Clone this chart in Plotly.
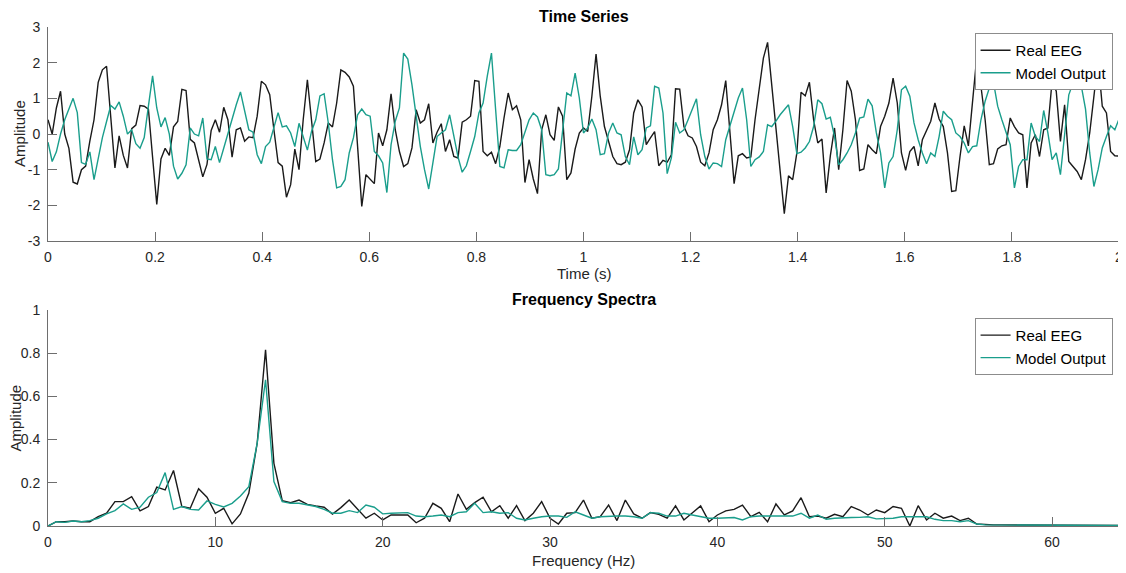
import numpy as np
import plotly.graph_objects as go

# ---------------- data ----------------
fs = 128
eeg_time = [
    0.4, 0.0, 0.73, 1.2, 0.0, -0.4, -1.35, -1.4, -1.0, -0.9,
    -0.2, 0.4, 1.45, 1.8, 1.9, 0.55, -0.95, -0.05, -0.6, -0.95,
    0.15, 0.25, 0.8, 0.78, 0.7, -0.65, -1.97, -0.7, -0.4, -0.6,
    0.2, 0.35, 1.25, 1.22, -0.15, -0.25, -0.7, -1.2, -0.85, 0.1,
    0.4, 0.05, 0.75, 0.4, -0.65, 0.12, 0.17, -0.2, -0.08, -0.1,
    0.5, 1.48, 1.38, 1.1, 0.12, -0.8, -0.9, -1.77, -1.42, -0.42,
    -1.0, 0.4, 1.52, 0.4,
    -0.77, -0.70, -0.25, 0.31, 0.2, 0.87, 1.8, 1.73, 1.6, 1.34,
    -0.49, -2.03, -1.14, -1.26, -1.39, 0.03, -0.33, 0.12, 1.13, 0.12,
    -0.49, -0.91, -0.83, -0.39, 0.68, 0.31, 0.4, 0.85, -0.25, 0.05,
    0.29, -0.49, -0.16, -0.63, -0.67, 0.33, 0.4, 0.5, 1.5, 1.48,
    -0.49, -0.61, -0.51, -0.83, -0.35, 0.45, 1.15, 0.68, 0.79, 0.4,
    -1.36, -0.72, -1.26, -1.67, 0.12, 0.54, -0.02, -0.18, 0.76, 0.5,
    -1.28, -1.09, -0.42, 0.03,
    0.17, 0.07, 1.06, 2.24, 1.06, 0.21, -0.25, -0.63, -0.83, -0.86,
    -0.79, -0.44, 0.59, 0.96, 0.76, -0.3, -0.11, 0.07, -0.89, -0.74,
    -0.79, -0.58, 1.27, 1.26, 0.21, -0.05, -0.11, -0.35, -0.79, -0.89,
    -0.53, 0.12, 0.4, 0.82, 1.5, 0.0, -1.39, -0.61, -0.55, -0.67,
    -0.64, 0.4, 1.34, 2.13, 2.57, 1.34, 0.03, -1.19, -2.23, -1.17,
    -1.28, -0.53, 1.17, 1.07, 1.45, 0.4, -0.25, -0.14, -1.65, -0.61,
    0.17, -1.0, 0.12,
    1.5, 1.2, 0.4, -1.02, -0.98, -0.3, -0.44, -0.55, 0.21, 0.5,
    0.87, 1.57, 0.87, -0.53, -1.02, -0.49, -0.35, -0.89, -0.16, 0.12,
    0.36, 0.87, 0.42, 0.21, -0.53, -1.61, -1.59, -0.63, 0.23, -0.33,
    0.92, 2.16, 1.34, 0.4, -0.86, -0.83, -0.42, -0.33, -0.3, 0.45,
    0.21, 0.03, -0.02, -1.51, -0.25, -0.02, -0.63, 0.12, 0.17, 1.48,
    1.2, -0.21, 0.82, -0.77, -0.91, -1.05, -1.28, -0.72, 0.03, 1.06,
    2.08, 0.78, 0.59, -0.49, -0.61, -0.62,
]
model_time = [
    -0.23, -0.77, -0.5, 0.0, 0.4, 0.73, 1.0, 0.6, -0.8, -0.85,
    -0.5, -1.28, -0.72, -0.1, 0.35, 0.8, 0.7, 0.9, 0.5, 0.0,
    0.12, -0.27, -0.4, -0.1, 0.78, 1.63, 0.73, 0.2, 0.46, 0.0,
    -0.9, -1.26, -1.1, -0.86, 0.17, 0.0, -0.05, 0.45, -0.7, -0.72,
    -0.35, -0.8, -0.4, 0.03, 0.42, 0.82, 1.18, 0.6, 0.12, 0.05,
    -0.58, -0.83, -0.35, -0.23, 0.17, 0.6, 0.2, 0.23, 0.03, -0.35,
    0.3, -0.07, -0.45, 0.08,
    0.4, 1.07, 1.13, 0.31, -0.72, -1.51, -1.47, -1.28, -0.53, -0.11,
    0.54, 0.7, 0.54, 0.5, -0.49, -0.61, -0.81, -1.64, -0.3, 0.36,
    0.73, 2.27, 2.1, 1.38, 0.5, -0.35, -1.0, -1.54, -0.81, -0.07,
    0.03, 0.12, 0.54, -0.07, -0.64, -1.07, -0.89, -0.49, -0.07, 0.59,
    0.87, 1.62, 2.27, 0.68, -0.91, -0.95, -0.44, -0.46, -0.46, -0.3,
    0.07, 0.4, 0.59, 0.48, 0.12, -1.14, -1.17, -1.14, -0.98, 0.12,
    1.15, 1.07, 1.71, 1.01,
    0.03, 0.17, 0.42, 0.12, -0.58, -0.55, 0.03, 0.31, 0.03, -0.02,
    -0.63, -0.86, -0.08, -0.58, -0.44, 0.17, 0.23, 1.34, 1.29, 0.59,
    -1.11, -0.67, 0.33, 0.03, 0.12, 0.4, 0.68, 0.99, -0.02, -0.63,
    -0.98, -0.81, -0.83, -0.91, -0.16, 0.23, 0.59, 1.01, 1.29, 0.4,
    -0.91, -0.72, -0.64, -0.49, 0.26, 0.21, 0.36, 0.54, 0.68, 0.82,
    0.21, -0.55, -0.51, -0.39, -0.21, 0.21, 0.96, 0.85, 0.42, 0.47,
    -0.07, -0.86, -0.72,
    -0.53, -0.3, 0.03, 0.45, 0.48, 0.98, 0.79, 0.03, -0.53, -1.51,
    -0.81, -0.63, 0.12, 1.24, 1.34, 1.06, 0.31, -0.16, -0.53, -0.83,
    -0.53, -0.63, -0.07, 0.64, 0.5, 0.4, 0.03, -0.07, -0.25, -0.53,
    -0.35, -0.33, 0.4, 0.92, 1.29, 1.45, 0.78, 0.4, 0.03, -0.3,
    -1.51, -0.91, -0.72, -0.72, 0.31, -0.07, -0.21, 0.66, 0.03, -0.72,
    -0.53, -1.14, -0.02, 1.1, 1.43, 1.57, 1.34, 0.7, -0.53, -1.47,
    -1.0, -0.39, -0.07, 0.23, 0.12, 0.42,
]
time_s = [i / fs for i in range(len(eeg_time))]

freq_hz = [i * 0.5 for i in range(129)]
eeg_spec = [
    0.0, 0.02, 0.02, 0.023, 0.02, 0.02, 0.043, 0.059, 0.113, 0.113,
    0.136, 0.07, 0.09, 0.18, 0.167, 0.257, 0.09, 0.082, 0.172, 0.133,
    0.059, 0.082, 0.01, 0.056, 0.151, 0.383, 0.816, 0.29, 0.117, 0.108,
    0.12, 0.10, 0.093, 0.087, 0.055,
    0.085, 0.12, 0.077, 0.036, 0.059, 0.028, 0.051, 0.051, 0.051, 0.015,
    0.036, 0.105, 0.082, 0.02, 0.148, 0.077, 0.108, 0.133, 0.066, 0.094,
    0.036, 0.094, 0.025, 0.059, 0.113, 0.036, 0.009, 0.059, 0.062, 0.12,
    0.036, 0.043, 0.097, 0.025, 0.12, 0.056, 0.036, 0.062, 0.054, 0.036,
    0.093, 0.028, 0.059, 0.093, 0.02, 0.051,
    0.07, 0.077, 0.097, 0.043, 0.063, 0.02, 0.102, 0.051, 0.07, 0.131,
    0.043, 0.046, 0.036, 0.054, 0.043, 0.09, 0.074, 0.051, 0.074, 0.062,
    0.09, 0.082, 0.0, 0.094, 0.028, 0.059, 0.036, 0.046, 0.025, 0.036,
    0.009,
    0.006, 0.005, 0.005, 0.005, 0.004, 0.004, 0.004, 0.004, 0.004, 0.003,
    0.003, 0.003, 0.003, 0.003, 0.003, 0.003, 0.002,
]
model_spec = [
    0.0, 0.02, 0.017, 0.023, 0.02, 0.025, 0.036, 0.056, 0.071, 0.102,
    0.077, 0.087, 0.133, 0.155, 0.247, 0.077, 0.09, 0.077, 0.074, 0.116,
    0.1, 0.088, 0.105, 0.139, 0.182, 0.383, 0.677, 0.206, 0.113, 0.105,
    0.105, 0.097, 0.09, 0.077, 0.059,
    0.059, 0.071, 0.062, 0.097, 0.087, 0.056, 0.059, 0.062, 0.062, 0.046,
    0.043, 0.046, 0.051, 0.043, 0.062, 0.066, 0.105, 0.062, 0.066, 0.059,
    0.062, 0.036, 0.028, 0.036, 0.043, 0.046, 0.046, 0.04, 0.066, 0.051,
    0.036, 0.043, 0.046, 0.046, 0.046, 0.043, 0.036, 0.062, 0.059, 0.046,
    0.046, 0.059, 0.051, 0.043, 0.036, 0.036,
    0.039, 0.039, 0.028, 0.043, 0.046, 0.046, 0.046, 0.046, 0.046, 0.059,
    0.036, 0.051, 0.031, 0.036, 0.039, 0.039, 0.04, 0.043, 0.033, 0.036,
    0.036, 0.043, 0.043, 0.043, 0.043, 0.031, 0.025, 0.025, 0.02, 0.025,
    0.009,
    0.005, 0.005, 0.005, 0.004, 0.004, 0.004, 0.004, 0.004, 0.003, 0.003,
    0.003, 0.003, 0.003, 0.003, 0.003, 0.002, 0.002,
]

# tick labels
time_ticks = [0, 0.2, 0.4, 0.6, 0.8, 1, 1.2, 1.4, 1.6, 1.8, 2]
time_ticklabels = ["0", "0.2", "0.4", "0.6", "0.8", "1", "1.2", "1.4", "1.6", "1.8", "2"]
amp_ticks = [-3, -2, -1, 0, 1, 2, 3]
amp_ticklabels = ["-3", "-2", "-1", "0", "1", "2", "3"]
freq_ticks = [0, 10, 20, 30, 40, 50, 60]
freq_ticklabels = ["0", "10", "20", "30", "40", "50", "60"]
spec_ticks = [0, 0.2, 0.4, 0.6, 0.8, 1]
spec_ticklabels = ["0", "0.2", "0.4", "0.6", "0.8", "1"]

# ---------------- styling ----------------
BLACK = "#1a1a1a"
TEAL = "#1a9e8c"
AXC = "#6e6e6e"
TXT = "#262626"
FONT = "Liberation Sans, Arial, sans-serif"

fig = go.Figure()
fig.add_trace(go.Scatter(x=time_s, y=eeg_time, mode="lines", name="Real EEG",
                         line=dict(color=BLACK, width=1.4), xaxis="x", yaxis="y",
                         legend="legend"))
fig.add_trace(go.Scatter(x=time_s, y=model_time, mode="lines", name="Model Output",
                         line=dict(color=TEAL, width=1.4), xaxis="x", yaxis="y",
                         legend="legend"))
fig.add_trace(go.Scatter(x=freq_hz, y=eeg_spec, mode="lines", name="Real EEG",
                         line=dict(color=BLACK, width=1.4), xaxis="x2", yaxis="y2",
                         legend="legend2"))
fig.add_trace(go.Scatter(x=freq_hz, y=model_spec, mode="lines", name="Model Output",
                         line=dict(color=TEAL, width=1.4), xaxis="x2", yaxis="y2",
                         legend="legend2"))

axis_common = dict(showgrid=False, zeroline=False, showline=True, linecolor=AXC,
                   linewidth=1, ticks="inside", ticklen=9, tickcolor=AXC, tickwidth=1,
                   tickfont=dict(family=FONT, size=14, color=TXT), mirror=False,
                   automargin=False, tickmode="array")

legend_common = dict(bgcolor="white", bordercolor="#8c8c8c", borderwidth=1,
                     font=dict(family=FONT, size=15, color="#000000"),
                     xanchor="right", yanchor="top", x=0.994, itemwidth=30,
                     tracegroupgap=0)

# the page body adds an 8px offset; size the figure so the plot areas land in place
fig.update_layout(
    width=1118, height=565,
    margin=dict(l=40, r=7, t=19, b=47),
    paper_bgcolor="white", plot_bgcolor="white",
    font=dict(family=FONT, color=TXT),
    xaxis=dict(domain=[0, 1], range=[0, 2], tickvals=time_ticks, ticktext=time_ticklabels,
               anchor="y", ticklabelstandoff=3, **axis_common),
    yaxis=dict(domain=[0.571, 1], range=[-3, 3], tickvals=amp_ticks, ticktext=amp_ticklabels,
               anchor="x", ticklabelstandoff=4, **axis_common),
    xaxis2=dict(domain=[0, 1], range=[0, 64], tickvals=freq_ticks, ticktext=freq_ticklabels,
                anchor="y2", ticklabelstandoff=3, **axis_common),
    yaxis2=dict(domain=[0, 0.433], range=[0, 1], tickvals=spec_ticks, ticktext=spec_ticklabels,
                anchor="x2", ticklabelstandoff=4, **axis_common),
    legend=dict(y=0.988, **legend_common),
    legend2=dict(y=0.417, **legend_common),
    showlegend=True,
)

ann = [
    dict(text="<b>Time Series</b>", x=0.5, y=1.021, size=16, color="#000000", angle=0),
    dict(text="<b>Frequency Spectra</b>", x=0.5, y=0.454, size=16, color="#000000", angle=0),
    dict(text="Time (s)", x=0.5, y=0.507, size=15, color=TXT, angle=0),
    dict(text="Frequency (Hz)", x=0.5, y=-0.070, size=15, color=TXT, angle=0),
    dict(text="Amplitude", x=-0.026, y=0.786, size=15, color=TXT, angle=-90),
    dict(text="Amplitude", x=-0.0305, y=0.216, size=15, color=TXT, angle=-90),
]
for a in ann:
    fig.add_annotation(text=a["text"], x=a["x"], y=a["y"], xref="paper", yref="paper",
                       showarrow=False, textangle=a["angle"], xanchor="center",
                       yanchor="middle", font=dict(family=FONT, size=a["size"], color=a["color"]))

fig.write_html("out.html")
